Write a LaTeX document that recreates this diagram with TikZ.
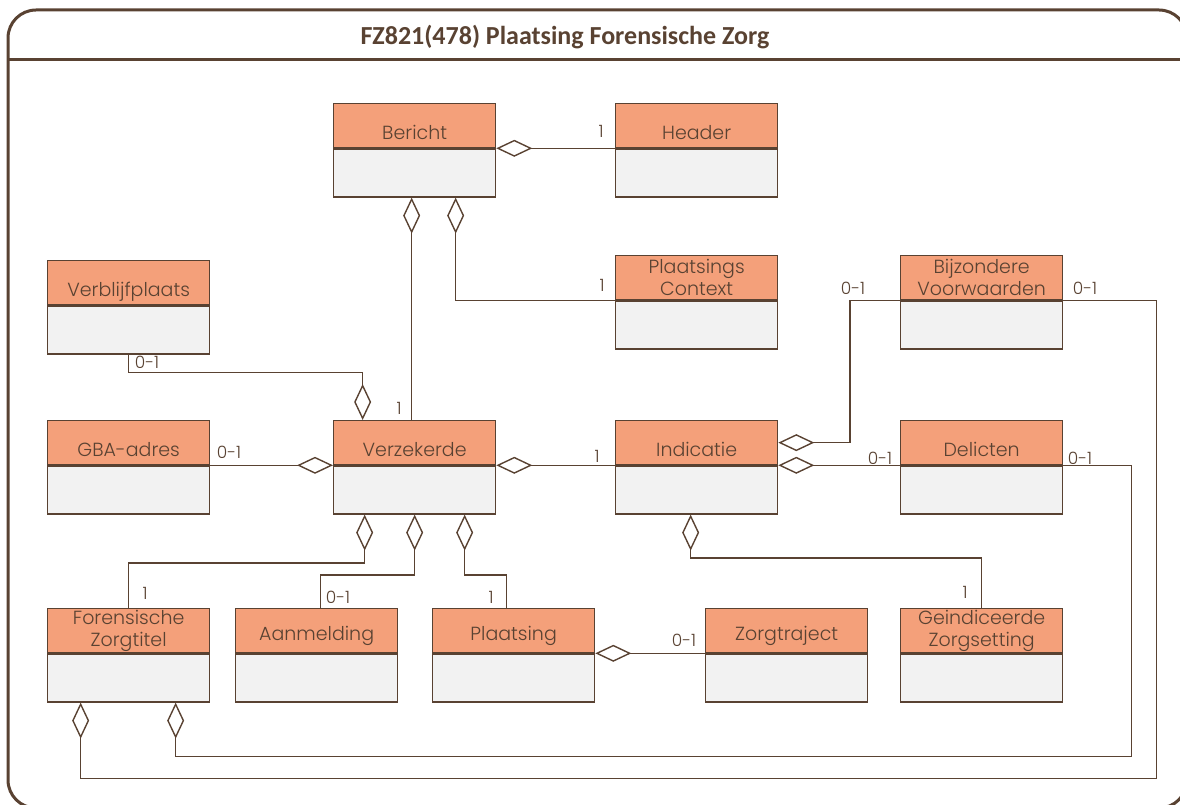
\documentclass[tikz,border=0pt]{standalone}
\usepackage{fontspec}
\setmainfont{Poppins}[UprightFont=* Light]
\newfontfamily\titelfont{Carlito}
\usetikzlibrary{arrows.meta, positioning}
\definecolor{kop}{RGB}{244,160,122}
\definecolor{romp}{RGB}{242,242,242}
\definecolor{bruin}{RGB}{89,66,50}

\tikzset{
  kop/.style={draw=bruin, fill=kop, line width=1.3pt, minimum width=162pt, minimum height=44pt,
    anchor=north west, align=center, text=bruin, font=\fontsize{19}{22}\selectfont, inner sep=0pt},
  laag/.style={text height=29pt, text depth=2pt},
  iets/.style={text height=21pt, text depth=2pt},
  gewoon/.style={},
  romp/.style={draw=bruin, fill=romp, line width=1.3pt, minimum width=162pt, minimum height=48pt, inner sep=0pt},
  agg/.style={draw=bruin, line width=1.4pt, -{Diamond[open, length=36pt, width=17pt]}},
  mult/.style={text=bruin, font=\fontsize{17}{20}\selectfont, inner sep=0pt},
}

\begin{document}
\begin{tikzpicture}[x=1pt, y=-1pt]
			\useasboundingbox (0,0) rectangle (1180,805);
			\draw[bruin, line width=3pt, rounded corners=28pt] (8,10) rectangle (1187,808);
			\draw[bruin, line width=3pt] (8,60) -- (1187,60);
			\node (titel) [text=bruin, font=\titelfont\bfseries\fontsize{26}{30}\selectfont] at (565,37) {FZ821(478) Plaatsing Forensische Zorg};
			% klassen
			\foreach \n/\x/\y/\t/\s in {bericht/333/103/Bericht/laag, header/615/103/Header/laag,
				context/615/255/{Plaatsings\\Context}/gewoon, bijzonder/900/255/{Bijzondere\\Voorwaarden}/gewoon,
				verblijf/47/260/Verblijfplaats/laag, gba/47/420/GBA-adres/laag, verzekerde/333/420/Verzekerde/laag,
				indicatie/615/420/Indicatie/laag, delicten/900/420/Delicten/laag,
				zorgtitel/47/608/{Forensische\\Zorgtitel}/gewoon, aanmelding/235/608/Aanmelding/iets,
				plaatsing/432/608/Plaatsing/iets, zorgtraject/705/608/Zorgtraject/iets,
				zorgsetting/900/608/{Geindiceerde\\Zorgsetting}/gewoon}{
				\node (\n) [kop, \s] at (\x,\y) {\t};
				\node (\n-b) [romp, below=0pt of \n] {};
			}
			% aggregaties
			\draw[agg] (header.south west) -- (bericht.south east);
			\draw[agg] (context.south west) -| ([xshift=41pt]bericht-b.south);
			\draw[agg] ([xshift=-3pt]verzekerde.north) -- ([xshift=-3pt]bericht-b.south);
			\draw[agg] (verblijf-b.south) -- ++(0,18) -| ([xshift=-52pt]verzekerde.north);
			\draw[agg] (gba.south east) -- (verzekerde.south west);
			\draw[agg] (indicatie.south west) -- (verzekerde.south east);
			\draw[agg] (bijzonder.south west) -- ++(-50,0) |- (indicatie.east);
			\draw[agg] (delicten.south west) -- (indicatie.south east);
			\draw[agg] (zorgsetting.north) -- ++(0,-50) -| ([xshift=-6pt]indicatie-b.south);
			\draw[agg] (zorgtitel.north) -- ++(0,-45) -| ([xshift=-50pt]verzekerde-b.south);
			\draw[agg] ([xshift=4pt]aanmelding.north) -- ++(0,-33) -| (verzekerde-b.south);
			\draw[agg] ([xshift=-7pt]plaatsing.north) -- ++(0,-33) -| ([xshift=50pt]verzekerde-b.south);
			\draw[agg] (zorgtraject.south west) -- (plaatsing.south east);
			\draw[agg] (delicten.south east) -- ++(68,0) -- ++(0,291) -| ([xshift=47pt]zorgtitel-b.south);
			\draw[agg] (bijzonder.south east) -- ++(93,0) -- ++(0,478) -| ([xshift=-48pt]zorgtitel-b.south);
			% multipliciteiten
			\node (m1) [mult] at (601,131) {1};
			\node (m2) [mult] at (602,285) {1};
			\node (m3) [mult] at (399,408) {1};
			\node (m4) [mult] at (147,362) {0-1};
			\node (m5) [mult] at (229,452) {0-1};
			\node (m6) [mult] at (597,456) {1};
			\node (m7) [mult] at (853,288) {0-1};
			\node (m8) [mult] at (1085,288) {0-1};
			\node (m9) [mult] at (880,458) {0-1};
			\node (m10) [mult] at (1080,458) {0-1};
			\node (m11) [mult] at (965,592) {1};
			\node (m12) [mult] at (145,593) {1};
			\node (m13) [mult] at (338,597) {0-1};
			\node (m14) [mult] at (491,597) {1};
			\node (m15) [mult] at (684,640) {0-1};
		\end{tikzpicture}
\end{document}
